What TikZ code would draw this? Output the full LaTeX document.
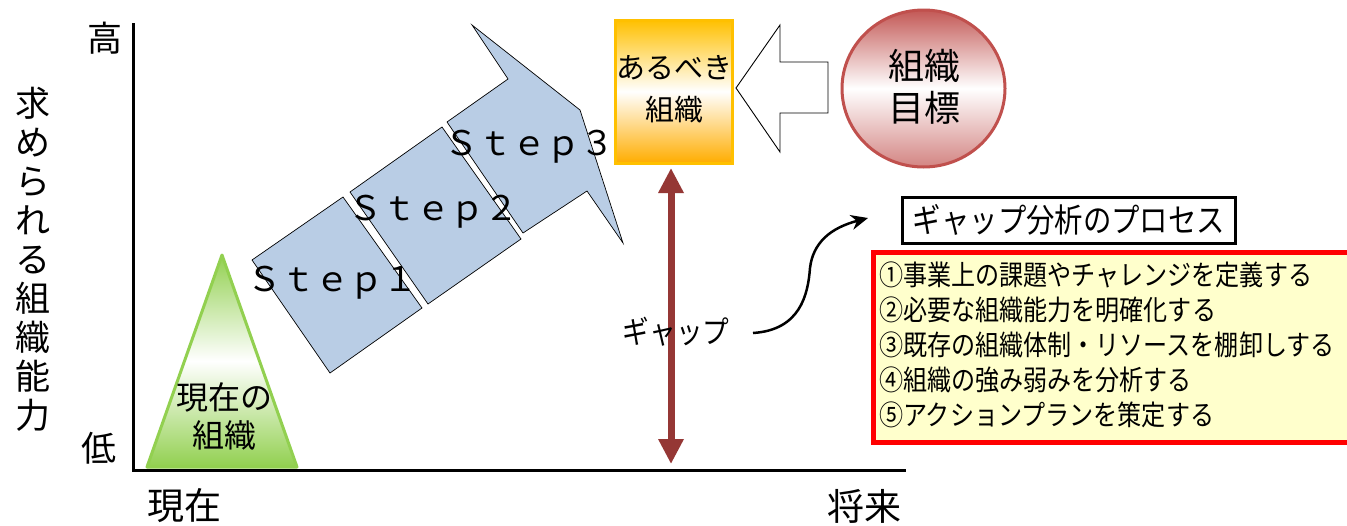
\documentclass[tikz,border=0pt]{standalone}
\usepackage{fontspec}
\setmainfont{Noto Sans CJK JP}
\newfontfamily\jc[FakeStretch=0.86]{Noto Sans CJK JP}
\usetikzlibrary{arrows.meta}
\definecolor{stepblue}{HTML}{B9CDE5}
\definecolor{gapred}{HTML}{953735}
\definecolor{orng}{HTML}{FFC000}
\definecolor{grn}{HTML}{92D050}
\definecolor{circred}{HTML}{C0504D}
\definecolor{listbg}{HTML}{FFFFCC}
\newcommand\fsz[1]{\fontsize{#1}{#1}\selectfont}
\tikzset{
  txt/.style={inner sep=0pt, outer sep=0pt},
  stepshape/.style={fill=stepblue, draw=black, line width=0.7pt, line join=miter},
  steplabel/.style={txt, font=\fsz{34}},
}
\begin{document}
\begin{tikzpicture}[x=1pt,y=-1pt]
\useasboundingbox (0,0) rectangle (1347,525);
\fill[white] (0,0) rectangle (1347,525);

% axes
\coordinate (ytop) at (133,23);
\coordinate (orig) at (133,470);
\coordinate (xend) at (906,470);
\draw[line width=3pt, line join=miter] (ytop) -- (orig) -- (xend);

\node[txt, font=\fsz{35}] (hi) at (105,38) {高};
\node[txt, font=\fsz{35}] (lo) at (99,448) {低};
\node[txt, align=center, font=\fontsize{35}{39}\selectfont] (ylab) at (33,259)
  {求\\め\\ら\\れ\\る\\組\\織\\能\\力};
\node[txt, font=\fsz{37}] (now) at (184,506) {現在};
\node[txt, font=\fsz{37}] (fut) at (864,506) {将来};

% current organization triangle
\shade[top color=grn, bottom color=grn, middle color=white]
  (222,255) -- (297,467) -- (147,467) -- cycle;
\draw[grn, line width=3pt, line join=round] (222,255) -- (297,467) -- (147,467) -- cycle;
\node[txt, align=center, font=\fontsize{32}{38}\selectfont] (cur) at (224,416) {現在の\\組織};

% steps
\draw[stepshape] (252,260) -- (343,197) -- (422,308) -- (330,373) -- cycle;
\draw[stepshape] (350,192) -- (442,127) -- (521,239) -- (428,304) -- cycle;
\draw[stepshape] (447,122) -- (508,79) -- (472,25) -- (580,110) -- (623,243) -- (587,191) -- (523,233) -- cycle;
\node[steplabel] (s1) at (332,283) {Ｓｔｅｐ１};
\node[steplabel] (s2) at (433,212) {Ｓｔｅｐ２};
\node[steplabel] (s3) at (529,147) {Ｓｔｅｐ３};

% target organization box
\shade[top color=orng, bottom color=orng!90!red, middle color=white] (615,20) rectangle (732,163);
\draw[orng, line width=3pt] (615,20) rectangle (732,163);
\node[txt, align=center, font=\fontsize{29}{42}\selectfont] (goalorg) at (674,89) {あるべき\\組織};
\coordinate (orgbottom) at (671,168);

% block arrow
\draw[fill=white, line width=0.9pt, line join=miter]
  (736,88) -- (780,25) -- (780,62) -- (828,62) -- (828,113) -- (780,113) -- (780,152) -- cycle;

% goal circle
\shade[top color=circred!95, bottom color=circred!70, middle color=white]
  (923.5,88.5) ellipse [x radius=81.5, y radius=78.5];
\draw[circred, line width=3pt] (923.5,88.5) ellipse [x radius=81.5, y radius=78.5];
\node[txt, align=center, font=\fontsize{36}{42}\selectfont] (goaltxt) at (924,87) {組織\\目標};

% gap arrow
\coordinate (gapbottom) at (671,464);
\draw[gapred, line width=7pt,
  {Triangle[width=24pt,length=25pt]}-{Triangle[width=24pt,length=25pt]}]
  (orgbottom) -- (gapbottom);
\node[txt, font=\jc\fsz{31}] (gap) at (676,332) {ギャップ};

% curved arrow
\coordinate (cstart) at (753,333);
\coordinate (cend) at (868,218);
\draw[line width=2.5pt, -{Stealth[length=17pt,width=15pt]}]
  (cstart) .. controls (800,330) and (808,295) .. (810,268)
  .. controls (813,243) and (830,228) .. (cend);

% title box
\node[txt, draw=black, line width=3pt, fill=white, minimum width=333pt, minimum height=46pt,
  font=\jc\fsz{33}] (title) at (1069,220) {ギャップ分析のプロセス};

% list box
\draw[red, line width=5pt, fill=listbg] (873,252) rectangle (1360,442);
\node[txt, anchor=west, align=left, font=\jc\fontsize{28}{35}\selectfont] (list) at (879,345)
  {①事業上の課題やチャレンジを定義する\\
   ②必要な組織能力を明確化する\\
   ③既存の組織体制・リソースを棚卸しする\\
   ④組織の強み弱みを分析する\\
   ⑤アクションプランを策定する};
\end{tikzpicture}
\end{document}
